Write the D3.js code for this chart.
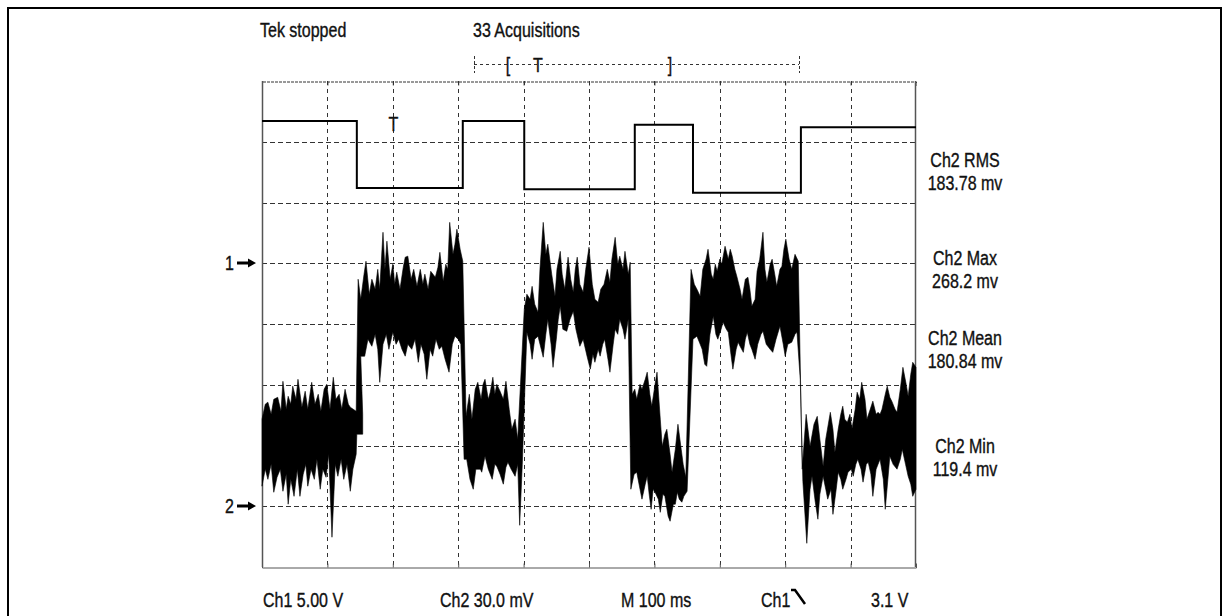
<!DOCTYPE html>
<meta charset="utf-8">

<!-- Load d3.js -->
<script src="https://d3js.org/d3.v7.min.js"></script>

<style>
  body { margin: 0; background: #fff; }
  text { font-family: "Liberation Sans", Arial, sans-serif; font-size: 16px; fill: #111; stroke: #111; stroke-width: 0.3px; }
</style>

<!-- Create a div where the graph will take place -->
<div id="my_dataviz"></div>

<script>

// ---- data ----
// Ch1 square wave: step times (ms) and levels (V)
var ch1Time = [0, 145, 307, 401, 570, 659, 824, 1000];
var ch1Volts = [11.7, 6.2, 11.7, 6.1, 11.4, 5.8, 11.2, 11.2];

// Ch2 noisy trace, upper envelope [ms, mV]
var ch2Upper = [
  [0,43.0],[5,50.4],[9,51.4],[14,45.4],[18,52.8],[24,53.8],[29,46.9],[32,61.7],[37,47.9],[40,54.3],
  [44,50.4],[47,59.3],[52,52.8],[55,62.7],[61,48.9],[66,56.8],[70,47.9],[76,61.2],[81,50.4],[86,55.3],
  [90,46.9],[95,57.8],[99,60.2],[104,47.9],[109,63.7],[113,52.8],[118,55.3],[122,47.9],[127,57.8],[132,50.4],
  [135,48.9],[144,46.9],
  [147,112.1],[151,102.2],[156,114.6],[159,121.0],[164,104.7],[168,112.1],[173,107.2],[177,117.0],[180,107.2],[185,135.3],
  [188,117.0],[191,130.9],[196,112.1],[200,119.5],[203,109.6],[206,115.6],[211,107.2],[216,118.0],[219,123.0],[223,123.5],
  [228,112.1],[232,117.0],[237,108.6],[242,117.0],[246,109.6],[249,114.6],[254,107.2],[258,116.0],[265,113.1],[269,118.0],
  [272,125.4],[277,111.1],[281,119.5],[284,117.0],[287,140.2],[292,124.4],[295,129.4],[298,136.8],[303,126.9],[307,121.0],
  [312,44.4],[317,55.3],[321,43.0],[326,57.8],[330,61.2],[335,52.8],[338,60.2],[341,62.7],[346,52.8],[349,56.3],
  [353,63.7],[356,55.3],[359,60.2],[364,56.8],[369,52.8],[373,61.7],[378,47.9],[382,38.0],[387,43.0],[391,33.1],
  [401,97.3],[405,104.7],[410,102.2],[413,108.6],[417,99.8],[422,95.8],[425,117.0],[430,140.2],[434,124.4],[437,129.4],
  [440,122.0],[443,114.6],[448,103.7],[451,117.0],[456,125.9],[459,114.6],[463,107.2],[468,123.0],[472,112.1],[476,105.7],
  [479,117.0],[482,123.0],[486,109.6],[491,105.7],[495,117.0],[500,127.9],[505,109.6],[509,102.2],[514,100.7],[518,107.2],
  [523,109.6],[528,117.0],[532,110.6],[535,122.0],[540,132.8],[544,119.5],[547,123.5],[552,117.0],[555,125.9],[560,114.6],
  [563,120.5],
  [566,55.3],[570,57.8],[573,52.8],[578,60.2],[581,57.8],[586,62.7],[589,66.2],[593,55.3],[596,49.4],[601,60.2],
  [604,66.2],[609,43.0],[612,29.6],[616,35.6],[619,38.0],[624,25.7],[627,16.8],[632,28.1],[636,40.5],[641,28.1],
  [644,20.7],[648,14.3],
  [656,117.0],[661,109.6],[665,107.2],[670,103.7],[674,117.0],[679,122.0],[682,126.9],[687,114.6],[690,112.1],[693,119.5],
  [696,116.0],[700,122.0],[703,119.5],[708,128.4],[713,122.0],[716,126.9],[719,123.5],[723,117.0],[726,113.6],[731,107.2],
  [734,102.2],[739,112.1],[743,113.1],[746,107.2],[749,98.8],[754,102.2],[757,116.0],[761,122.0],[766,135.3],[769,117.0],
  [772,110.6],[777,119.5],[780,122.0],[784,114.6],[787,108.6],[792,117.0],[795,118.5],[798,126.9],[801,131.9],[806,122.0],
  [810,117.0],[815,124.4],[820,121.0],[826,18.3],
  [832,45.4],[838,29.6],[844,40.5],[849,44.4],[853,33.1],[858,19.8],[862,33.1],[869,46.4],[873,38.0],[876,26.7],
  [881,38.0],[885,45.4],[888,49.4],[891,43.0],[895,41.5],[899,45.4],[902,38.0],[907,47.9],[910,56.3],[914,52.8],
  [917,61.2],[922,52.8],[925,43.0],[930,47.9],[934,51.9],[939,45.4],[942,46.4],[945,45.4],[948,47.9],[953,55.3],
  [956,59.3],[960,53.8],[963,51.9],[968,47.9],[971,46.4],[976,57.8],[980,68.6],[985,60.2],[988,54.3],[992,65.2],
  [995,71.1],[1000,68.6]
];

// Ch2 noisy trace, lower envelope [ms, mV]
var ch2Lower = [
  [0,9.9],[5,18.3],[9,13.3],[14,20.7],[18,6.9],[23,14.3],[28,18.3],[32,7.4],[37,15.8],[40,1.0],
  [44,13.3],[49,4.9],[54,18.3],[58,4.9],[63,15.8],[67,20.7],[70,9.9],[75,18.3],[80,13.3],[84,23.2],
  [89,8.4],[93,18.3],[98,14.3],[102,25.7],[107,-15.3],[112,20.7],[116,14.8],[121,23.2],[125,13.3],[130,20.7],
  [135,7.4],[139,18.3],[144,25.7],[145,35.6],[154,35.6],[154,45.4],[151,74.1],
  [157,74.1],[162,82.5],[168,79.0],[173,84.9],[177,77.5],[180,61.2],[185,80.0],[190,84.9],[194,77.5],[200,85.9],
  [205,80.0],[209,82.5],[214,77.5],[219,74.1],[223,80.0],[229,77.5],[234,82.5],[239,71.1],[243,80.0],[248,75.1],
  [252,62.7],[257,77.5],[261,74.1],[266,82.5],[271,77.5],[275,79.0],[280,72.6],[286,66.2],[291,80.0],[295,84.0],
  [300,82.5],[304,80.0],
  [309,23.2],[313,23.2],[318,13.3],[323,8.4],[327,18.3],[334,18.3],[336,16.8],[341,24.7],[346,18.3],[352,13.3],
  [356,20.7],[359,19.8],[364,15.8],[369,10.9],[373,19.3],[376,21.7],[381,18.3],[387,14.8],[391,20.7],[394,-9.4],
  [398,20.7],
  [405,85.9],[410,80.0],[413,72.6],[417,82.5],[422,84.0],[427,77.5],[430,73.6],[434,84.9],[437,92.3],[442,80.0],
  [445,68.6],[450,82.5],[453,92.3],[456,98.8],[460,87.4],[466,86.4],[471,92.3],[476,96.3],[480,87.4],[486,79.0],
  [491,82.5],[497,74.1],[502,67.7],[506,75.1],[509,71.1],[514,77.5],[517,74.1],[521,80.0],[524,82.5],[529,72.6],
  [532,66.2],[537,80.0],[540,87.4],[544,84.9],[547,92.3],[552,87.4],[555,82.5],[560,92.3],
  [564,8.4],[569,15.8],[573,16.8],[578,8.4],[581,3.5],[586,10.9],[589,14.8],[592,5.9],[595,-1.5],[598,8.4],
  [601,6.9],[606,3.5],[609,-3.0],[613,5.9],[616,4.9],[621,-4.9],[624,-7.4],[629,1.0],[632,1.0],[635,6.9],
  [638,3.5],[642,2.0],[645,4.9],[650,7.4],
  [659,82.5],[665,84.0],[670,80.0],[673,77.5],[677,70.1],[680,69.1],[685,84.9],[690,93.8],[694,84.9],[697,82.5],
  [702,87.4],[705,90.9],[710,87.4],[713,85.9],[717,75.1],[720,67.7],[725,77.5],[728,81.0],[731,79.0],[736,76.0],
  [739,82.5],[742,85.9],[746,80.0],[749,77.5],[754,72.6],[758,80.0],[763,84.9],[766,86.4],[771,80.0],[777,77.5],
  [781,76.0],[786,82.5],[792,88.9],[797,80.0],[800,74.1],[804,80.0],[810,81.0],[815,84.9],[818,85.9],[823,62.7],
  [827,12.3],[833,-18.3],[838,8.4],[841,14.8],[846,2.0],[850,-6.4],[853,5.9],[858,14.8],[862,8.4],[865,3.5],
  [870,8.4],[873,-4.0],[878,8.4],[881,16.8],[885,13.3],[888,8.4],[893,13.3],[896,16.8],[901,18.3],[904,14.8],
  [908,20.7],[911,23.2],[916,18.3],[919,11.9],[924,20.7],[927,21.7],[931,15.8],[934,4.9],[939,18.3],[942,20.7],
  [945,23.2],[950,13.3],[953,-1.5],[957,13.3],[960,24.7],[965,20.7],[971,18.3],[976,23.2],[979,28.1],[984,20.7],
  [988,14.8],[992,10.9],[995,4.9],[1000,8.4]
];

// readouts
var measures = [["Ch2 RMS", "183.78 mv"], ["Ch2 Max", "268.2 mv"], ["Ch2 Mean", "180.84 mv"], ["Ch2 Min", "119.4 mv"]];
var bottomLabels = ["Ch1 5.00 V", "Ch2 30.0 mV", "M 100 ms", "Ch1", "3.1 V"];

// ---- layout ----
var width = 1229, height = 616;
var plot = {left: 262, right: 916, top: 81, bottom: 567};

var svg = d3.select("#my_dataviz")
  .append("svg")
    .attr("width", width)
    .attr("height", height);

// outer frame
svg.append("rect")
  .attr("x", 8).attr("y", 8)
  .attr("width", 1213).attr("height", 640)
  .attr("fill", "none").attr("stroke", "#000").attr("stroke-width", 2);

// scales: 10 div of 100 ms, Ch1 5 V/div, Ch2 30 mV/div
var x = d3.scaleLinear().domain([0, 1000]).range([plot.left, plot.right]);
var yCh1 = d3.scaleLinear().domain([-25, 15]).range([plot.bottom, plot.top]);
var yCh2 = d3.scaleLinear().domain([-30, 210]).range([plot.bottom, plot.top]);

// graticule
svg.append("g").selectAll("line")
  .data(d3.range(100, 1000, 100))
  .enter().append("line")
    .attr("x1", function(d) { return Math.round(x(d)) + 0.5; })
    .attr("x2", function(d) { return Math.round(x(d)) + 0.5; })
    .attr("y1", plot.top).attr("y2", plot.bottom)
    .attr("stroke", "#333").attr("stroke-dasharray", "4,4");

svg.append("g").selectAll("line")
  .data(d3.range(0, 210, 30))
  .enter().append("line")
    .attr("x1", plot.left).attr("x2", plot.right)
    .attr("y1", function(d) { return Math.round(yCh2(d)) + 0.5; })
    .attr("y2", function(d) { return Math.round(yCh2(d)) + 0.5; })
    .attr("stroke", "#333").attr("stroke-dasharray", "5,3");

// frame of the screen, ticks on top and bottom edges
svg.append("g")
  .attr("transform", "translate(0," + (plot.bottom + 0.5) + ")")
  .call(d3.axisBottom(x).tickValues(d3.range(100, 1000, 100)).tickSize(-4).tickFormat(""))
  .call(function(g) { g.select(".domain").attr("stroke", "#555"); g.selectAll(".tick line").attr("stroke", "#555"); });

svg.append("g")
  .attr("transform", "translate(0," + (plot.top + 0.5) + ")")
  .call(d3.axisTop(x).tickValues(d3.range(100, 1000, 100)).tickSize(-4).tickFormat(""))
  .call(function(g) { g.select(".domain").attr("stroke", "#333").attr("stroke-dasharray", "3,1"); g.selectAll(".tick line").attr("stroke", "#333"); });

svg.append("line")
  .attr("x1", plot.left + 0.5).attr("x2", plot.left + 0.5)
  .attr("y1", plot.top).attr("y2", plot.bottom)
  .attr("stroke", "#555").attr("stroke-width", 1.5);
svg.append("line")
  .attr("x1", plot.right - 0.5).attr("x2", plot.right - 0.5)
  .attr("y1", plot.top).attr("y2", plot.bottom)
  .attr("stroke", "#555").attr("stroke-width", 1.5);

// Ch2 trace as filled band between envelopes
var band = d3.line()
  .x(function(d) { return x(d[0]); })
  .y(function(d) { return yCh2(d[1]); });

svg.append("path")
  .attr("d", band(ch2Upper.concat(ch2Lower.slice().reverse())) + "Z")
  .attr("fill", "#000")
  .attr("stroke", "#000").attr("stroke-width", 0.6).attr("stroke-linejoin", "bevel");

// Ch1 square wave
var step = d3.line()
  .x(function(d, i) { return x(ch1Time[i]); })
  .y(function(d) { return yCh1(d); })
  .curve(d3.curveStepAfter);

svg.append("path")
  .attr("d", step(ch1Volts))
  .attr("fill", "none").attr("stroke", "#000").attr("stroke-width", 2);

// text helper (scope font is tall and narrow)
function label(px, py, txt, anchor) {
  return svg.append("text")
    .attr("transform", "translate(" + px + "," + py + ") scale(1,1.25)")
    .attr("text-anchor", anchor || "start")
    .text(txt);
}

label(260, 37, "Tek stopped");
label(473, 37, "33 Acquisitions");

// acquisition record bar
svg.append("line")
  .attr("x1", 474).attr("x2", 799).attr("y1", 64.5).attr("y2", 64.5)
  .attr("stroke", "#333").attr("stroke-dasharray", "3,3");
[474, 799].forEach(function(px) {
  svg.append("line")
    .attr("x1", px + 0.5).attr("x2", px + 0.5).attr("y1", 56).attr("y2", 73)
    .attr("stroke", "#333").attr("stroke-dasharray", "3,2");
});
label(508, 72, "[", "middle");
label(670, 72, "]", "middle");
label(538, 72, "T", "middle");

// trigger marker on the trace
label(x(200) + 0.5, 131, "T", "middle");

// ground markers
[["1", yCh1(0)], ["2", yCh2(0)]].forEach(function(m) {
  var gy = Math.round(m[1]);
  label(225, gy + 7, m[0]);
  svg.append("line")
    .attr("x1", 237).attr("x2", 250).attr("y1", gy).attr("y2", gy)
    .attr("stroke", "#000").attr("stroke-width", 3);
  svg.append("path")
    .attr("d", "M248," + (gy - 4.5) + "L256," + gy + "L248," + (gy + 4.5) + "Z")
    .attr("fill", "#000");
});

// measurement readouts
var measureY = [167, 265, 345, 453];
measures.forEach(function(m, i) {
  label(965, measureY[i], m[0], "middle");
  label(965, measureY[i] + 23, m[1], "middle");
});

// bottom status line
var bottomX = [263, 440, 621, 761, 871];
bottomLabels.forEach(function(t, i) { label(bottomX[i], 607, t); });

// falling-edge trigger slope symbol
svg.append("path")
  .attr("d", "M791,590L795,590L805,604")
  .attr("fill", "none").attr("stroke", "#000").attr("stroke-width", 2.5);

</script>
